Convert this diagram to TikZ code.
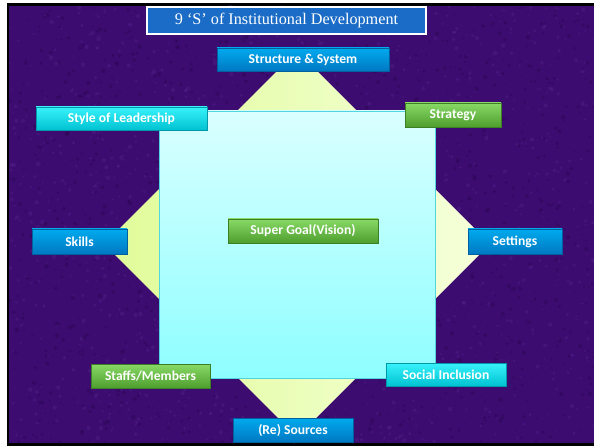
\documentclass[tikz,border=0pt]{standalone}
\usepackage{fontspec}
\setmainfont{Liberation Serif}
\newfontfamily\boxfont{Carlito}
\definecolor{bgpurple}{HTML}{3C0C70}
\definecolor{bglight}{HTML}{5A2C98}
\definecolor{bgdark}{HTML}{24044A}
\definecolor{titleblue}{HTML}{1A6CC6}
\definecolor{bluetop}{HTML}{00AAEE}
\definecolor{bluebot}{HTML}{0078C2}
\definecolor{bluedge}{HTML}{00609E}
\definecolor{cyantop}{HTML}{38F2FA}
\definecolor{cyanbot}{HTML}{00C2D2}
\definecolor{cyanedge}{HTML}{0098A8}
\definecolor{greentop}{HTML}{88DA66}
\definecolor{greenbot}{HTML}{4E9E2E}
\definecolor{greenedge}{HTML}{3E7E24}
\definecolor{sqtop}{HTML}{DAFFFF}
\definecolor{sqbot}{HTML}{8EFEFF}
\definecolor{sqedge}{HTML}{50D6DE}
\definecolor{yelleft}{HTML}{E0FC98}
\definecolor{yelright}{HTML}{F6FFDC}
\begin{document}
\begin{tikzpicture}[x=1pt,y=-1pt,
  sbox/.style={inner sep=0pt, font=\boxfont\bfseries\fontsize{13.6}{15}\selectfont, text=white, line width=0.6pt},
  bluebox/.style={sbox, top color=bluetop, bottom color=bluebot, draw=bluedge},
  cyanbox/.style={sbox, top color=cyantop, bottom color=cyanbot, draw=cyanedge},
  greenbox/.style={sbox, top color=greentop, bottom color=greenbot, draw=greenedge},
  titlebox/.style={inner sep=0pt, fill=titleblue, draw=white, line width=1.6pt, text=white, font=\fontsize{16.2}{19}\selectfont}
]
\useasboundingbox (0,0) rectangle (594,446);
\fill[white] (0,0) rectangle (594,446);
% frame and background
\fill[black] (7,3) rectangle (594,446);
\fill[bgpurple] (9,6) rectangle (594,443);
\pgfmathsetseed{7}
\begin{scope}
\clip (9,6) rectangle (594,443);
\foreach \i in {1,...,1400} {
  \pgfmathsetmacro{\px}{9+585*rnd}
  \pgfmathsetmacro{\py}{6+437*rnd}
  \pgfmathsetmacro{\pr}{0.6+1.6*rnd}
  \fill[bglight, opacity=0.3] (\px,\py) circle (\pr);
}
\foreach \i in {1,...,1400} {
  \pgfmathsetmacro{\px}{9+585*rnd}
  \pgfmathsetmacro{\py}{6+437*rnd}
  \pgfmathsetmacro{\pr}{0.6+1.6*rnd}
  \fill[bgdark, opacity=0.35] (\px,\py) circle (\pr);
}
\end{scope}
% diamond
\shade[left color=yelleft, right color=yelright] (297,51) -- (490,244) -- (297,437) -- (104,244) -- cycle;
% central square
\shade[top color=sqtop, bottom color=sqbot] (159,111) rectangle (435,378);
\draw[sqedge, line width=0.8pt] (159,111) rectangle (435,378);
% title
\node[titlebox, minimum width=279pt, minimum height=27pt] (title) at (286.5,20.5) {9 ‘S’ of Institutional Development};
% boxes
\node[bluebox, minimum width=172pt, minimum height=23pt] (structure) at (303,59.5) {Structure \& System};
\node[cyanbox, minimum width=171pt, minimum height=23pt] (style) at (121.5,118.5) {Style of Leadership};
\node[greenbox, minimum width=96pt, minimum height=24pt] (strategy) at (453,115) {Strategy};
\node[bluebox, minimum width=95pt, minimum height=25pt] (skills) at (79.5,241.5) {Skills};
\node[bluebox, minimum width=94pt, minimum height=25pt] (settings) at (515,241.5) {Settings};
\node[greenbox, minimum width=150pt, minimum height=24pt] (goal) at (303,231) {Super Goal(Vision)};
\node[greenbox, minimum width=119pt, minimum height=24pt] (staffs) at (150.5,376) {Staffs/Members};
\node[cyanbox, minimum width=120pt, minimum height=23pt] (social) at (446,374.5) {Social Inclusion};
\node[bluebox, minimum width=120pt, minimum height=24pt] (sources) at (293,430) {(Re) Sources};
\end{tikzpicture}
\end{document}
